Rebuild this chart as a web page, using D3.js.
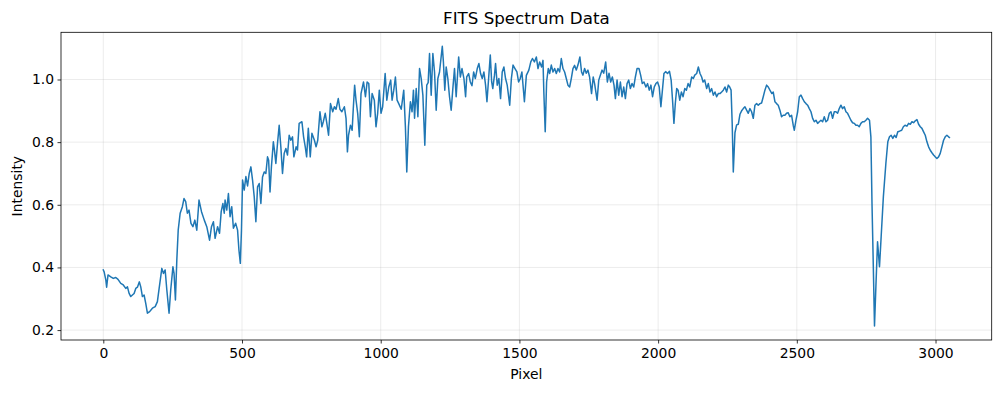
<!DOCTYPE html>
<html lang="en">
<head>
<meta charset="utf-8">
<title>FITS Spectrum Data</title>
<script src="https://d3js.org/d3.v7.min.js"></script>
<style>
  body { margin: 0; background: #fff; }
  svg { display: block; font-family: "DejaVu Sans", sans-serif; }
</style>
</head>
<body>
<svg id="chart"></svg>
<script>
// pixel positions and intensity
const pixels = [
  0, 3, 9, 12, 17, 27, 36, 45, 53, 63, 72, 81, 87, 93, 99, 105, 111, 117, 123, 130,
  135, 141, 147, 153, 159, 167, 177, 187, 195, 202, 211, 217, 223, 229, 237, 243, 251, 255, 260, 265,
  270, 277, 285, 291, 297, 303, 309, 316, 323, 330, 337, 345, 354, 364, 373, 383, 390, 397, 403, 412,
  419, 425, 431, 436, 439, 445, 451, 457, 463, 469, 477, 484, 489, 494, 498, 502, 508, 514, 520, 526,
  532, 538, 544, 550, 556, 562, 568, 574, 580, 586, 592, 596, 601, 606, 613, 617, 622, 628, 634, 640,
  646, 652, 658, 664, 670, 676, 682, 687, 695, 700, 706, 716, 722, 728, 733, 739, 746, 752, 761, 767,
  773, 781, 788, 793, 800, 805, 812, 819, 827, 833, 839, 847, 853, 860, 869, 875, 880, 884, 891, 897,
  901, 906, 911, 917, 923, 929, 938, 945, 951, 957, 963, 969, 977, 983, 989, 995, 1001, 1007, 1016, 1022,
  1029, 1036, 1041, 1047, 1053, 1059, 1065, 1074, 1083, 1089, 1094, 1100, 1107, 1113, 1118, 1122, 1128, 1134, 1140, 1146,
  1152, 1159, 1166, 1171, 1176, 1182, 1188, 1194, 1200, 1206, 1212, 1222, 1226, 1231, 1236, 1242, 1248, 1254, 1260, 1266,
  1272, 1281, 1287, 1293, 1300, 1306, 1310, 1317, 1323, 1329, 1335, 1341, 1348, 1354, 1360, 1366, 1372, 1378, 1383, 1389,
  1395, 1400, 1404, 1410, 1414, 1420, 1426, 1432, 1438, 1444, 1450, 1456, 1465, 1471, 1477, 1484, 1491, 1497, 1503, 1509,
  1518, 1525, 1534, 1541, 1547, 1554, 1561, 1567, 1573, 1580, 1585, 1588, 1593, 1598, 1604, 1609, 1615, 1621, 1627, 1633,
  1639, 1645, 1651, 1657, 1663, 1669, 1675, 1681, 1687, 1693, 1699, 1705, 1711, 1718, 1724, 1729, 1735, 1741, 1747, 1753,
  1760, 1766, 1771, 1780, 1786, 1792, 1798, 1804, 1811, 1817, 1823, 1829, 1835, 1841, 1846, 1852, 1858, 1864, 1870, 1876,
  1882, 1888, 1894, 1900, 1906, 1912, 1918, 1924, 1931, 1937, 1943, 1949, 1956, 1962, 1968, 1974, 1980, 1986, 1992, 1998,
  2004, 2010, 2016, 2021, 2027, 2034, 2041, 2047, 2052, 2057, 2062, 2067, 2072, 2078, 2084, 2090, 2096, 2102, 2108, 2114,
  2121, 2127, 2132, 2139, 2145, 2151, 2157, 2162, 2168, 2175, 2181, 2187, 2193, 2199, 2205, 2211, 2217, 2223, 2229, 2235,
  2241, 2247, 2253, 2258, 2263, 2267, 2271, 2277, 2283, 2289, 2295, 2301, 2307, 2313, 2319, 2325, 2331, 2337, 2343, 2349,
  2355, 2361, 2367, 2373, 2379, 2385, 2391, 2397, 2403, 2410, 2415, 2421, 2427, 2433, 2439, 2445, 2451, 2457, 2463, 2469,
  2475, 2481, 2487, 2491, 2497, 2503, 2509, 2515, 2521, 2527, 2533, 2539, 2545, 2551, 2557, 2563, 2569, 2575, 2581, 2587,
  2593, 2599, 2605, 2611, 2617, 2623, 2629, 2635, 2641, 2647, 2653, 2659, 2665, 2671, 2677, 2683, 2689, 2695, 2701, 2707,
  2713, 2719, 2725, 2731, 2737, 2743, 2749, 2755, 2762, 2767, 2771, 2776, 2780, 2785, 2791, 2798, 2804, 2812, 2821, 2828,
  2834, 2840, 2846, 2852, 2858, 2864, 2870, 2878, 2884, 2890, 2897, 2903, 2909, 2915, 2921, 2927, 2933, 2939, 2945, 2951,
  2957, 2963, 2969, 2975, 2981, 2987, 2993, 2999, 3005, 3011, 3017, 3023, 3029, 3035, 3041, 3047, 3050
];
const intensity = [
  0.392, 0.386, 0.360, 0.337, 0.376, 0.370, 0.365, 0.368, 0.362, 0.349, 0.344, 0.333, 0.338, 0.317, 0.307, 0.312, 0.317, 0.333, 0.337, 0.354,
  0.338, 0.307, 0.312, 0.285, 0.254, 0.259, 0.270, 0.275, 0.291, 0.338, 0.397, 0.381, 0.392, 0.328, 0.254, 0.328, 0.402, 0.381, 0.296, 0.424,
  0.519, 0.573, 0.594, 0.620, 0.610, 0.573, 0.583, 0.541, 0.530, 0.551, 0.519, 0.615, 0.578, 0.551, 0.530, 0.487, 0.530, 0.546, 0.493, 0.530,
  0.509, 0.578, 0.604, 0.573, 0.615, 0.583, 0.636, 0.562, 0.594, 0.525, 0.541, 0.519, 0.455, 0.413, 0.519, 0.679, 0.647, 0.690, 0.660, 0.700,
  0.721, 0.679, 0.626, 0.546, 0.657, 0.668, 0.604, 0.689, 0.705, 0.700, 0.753, 0.742, 0.641, 0.721, 0.801, 0.774, 0.732, 0.796, 0.854, 0.785,
  0.700, 0.764, 0.780, 0.759, 0.822, 0.806, 0.817, 0.753, 0.785, 0.775, 0.860, 0.865, 0.817, 0.785, 0.753, 0.844, 0.753, 0.828, 0.806, 0.785,
  0.806, 0.897, 0.849, 0.865, 0.892, 0.865, 0.822, 0.923, 0.897, 0.913, 0.905, 0.939, 0.905, 0.897, 0.913, 0.876, 0.769, 0.822, 0.854, 0.838,
  0.905, 0.982, 0.934, 0.892, 0.817, 0.955, 0.992, 0.945, 0.992, 0.987, 0.881, 0.955, 0.934, 0.849, 0.892, 0.966, 0.892, 0.913, 1.019, 0.934,
  0.976, 0.998, 0.934, 0.966, 1.008, 0.934, 0.923, 0.905, 0.966, 0.849, 0.705, 0.849, 0.929, 0.897, 0.966, 0.876, 0.971, 0.881, 1.035, 1.003,
  0.950, 0.790, 0.982, 0.990, 1.083, 0.950, 1.083, 1.024, 0.902, 1.003, 1.024, 1.106, 1.056, 0.966, 1.040, 1.003, 0.945, 0.902, 0.971, 1.035,
  0.945, 1.072, 1.008, 1.035, 1.003, 0.945, 1.008, 1.019, 0.992, 0.980, 1.024, 1.003, 1.035, 1.051, 1.019, 1.003, 1.024, 0.982, 0.929, 1.003,
  1.078, 0.992, 0.971, 1.013, 1.051, 0.982, 1.003, 0.939, 1.024, 1.040, 1.003, 0.982, 0.918, 1.003, 1.046, 1.035, 1.024, 0.992, 1.003, 1.024,
  0.929, 1.013, 1.030, 1.056, 1.067, 1.056, 1.072, 1.035, 1.056, 1.040, 1.061, 0.961, 0.833, 0.992, 1.035, 1.019, 1.046, 1.024, 1.035, 1.019,
  1.035, 1.024, 1.067, 1.035, 1.024, 1.003, 0.982, 0.976, 1.003, 1.035, 1.045, 1.030, 1.046, 1.072, 1.024, 1.014, 1.035, 1.020, 1.030, 1.008,
  0.955, 1.008, 0.987, 0.934, 0.998, 1.014, 1.030, 1.020, 1.056, 0.992, 1.020, 0.992, 1.008, 0.982, 0.939, 0.998, 0.950, 0.992, 0.945, 0.976,
  0.939, 0.987, 0.998, 0.971, 0.987, 0.976, 1.008, 1.035, 1.035, 1.014, 0.987, 0.992, 0.976, 0.987, 0.966, 0.982, 0.945, 0.976, 0.987, 0.992,
  0.976, 0.913, 0.971, 1.019, 1.025, 1.019, 1.026, 0.998, 0.934, 0.860, 0.924, 0.971, 0.966, 0.934, 0.960, 0.945, 0.971, 0.966, 0.987, 0.976,
  1.008, 1.003, 1.014, 1.019, 1.040, 1.019, 1.008, 0.992, 0.998, 0.971, 0.987, 0.960, 0.971, 0.950, 0.960, 0.945, 0.955, 0.955, 0.960, 0.966,
  0.976, 0.960, 0.982, 0.976, 0.966, 0.860, 0.705, 0.830, 0.855, 0.857, 0.889, 0.900, 0.907, 0.913, 0.902, 0.892, 0.907, 0.897, 0.876, 0.918,
  0.923, 0.918, 0.923, 0.925, 0.945, 0.966, 0.982, 0.976, 0.966, 0.955, 0.960, 0.929, 0.923, 0.918, 0.902, 0.881, 0.886, 0.886, 0.892, 0.894,
  0.881, 0.886, 0.854, 0.838, 0.870, 0.897, 0.945, 0.950, 0.939, 0.929, 0.923, 0.918, 0.907, 0.897, 0.876, 0.865, 0.870, 0.860, 0.865, 0.870,
  0.865, 0.881, 0.865, 0.870, 0.892, 0.897, 0.876, 0.897, 0.897, 0.892, 0.907, 0.918, 0.907, 0.913, 0.897, 0.892, 0.881, 0.870, 0.862, 0.860,
  0.854, 0.854, 0.849, 0.860, 0.865, 0.865, 0.870, 0.876, 0.870, 0.817, 0.604, 0.392, 0.213, 0.338, 0.482, 0.402, 0.498, 0.626, 0.732, 0.801,
  0.817, 0.822, 0.812, 0.822, 0.815, 0.833, 0.835, 0.838, 0.849, 0.854, 0.851, 0.860, 0.857, 0.865, 0.862, 0.868, 0.872, 0.857, 0.849, 0.844,
  0.833, 0.822, 0.801, 0.785, 0.774, 0.766, 0.759, 0.753, 0.748, 0.753, 0.764, 0.785, 0.806, 0.817, 0.822, 0.817, 0.815
];
const xTicks = [0, 500, 1000, 1500, 2000, 2500, 3000];
const yTicks = [0.2, 0.4, 0.6, 0.8, 1.0];

const width = 1001, height = 393;
const margin = { top: 32.3, right: 9.3, bottom: 53, left: 61 };
const w = width - margin.left - margin.right;
const h = height - margin.top - margin.bottom;

const svg = d3.select('#chart')
  .attr('width', width)
  .attr('height', height);

const data = pixels.map((p, i) => ({ x: p, y: intensity[i] }));

// matplotlib style 5% padding around the data
function padded(ext) {
  const pad = (ext[1] - ext[0]) * 0.05;
  return [ext[0] - pad, ext[1] + pad];
}

const x = d3.scaleLinear()
  .domain(padded(d3.extent(pixels)))
  .range([0, w]);
const y = d3.scaleLinear()
  .domain(padded(d3.extent(intensity)))
  .range([h, 0]);

const g = svg.append('g')
  .attr('transform', 'translate(' + margin.left + ',' + margin.top + ')');

// grid
g.append('g')
  .selectAll('line')
  .data(xTicks)
  .join('line')
  .attr('x1', d => x(d)).attr('x2', d => x(d))
  .attr('y1', 0).attr('y2', h)
  .attr('stroke', '#b0b0b0').attr('stroke-opacity', 0.3).attr('stroke-width', 0.8);
g.append('g')
  .selectAll('line')
  .data(yTicks)
  .join('line')
  .attr('x1', 0).attr('x2', w)
  .attr('y1', d => y(d)).attr('y2', d => y(d))
  .attr('stroke', '#b0b0b0').attr('stroke-opacity', 0.3).attr('stroke-width', 0.8);

// spectrum line
const line = d3.line()
  .x(d => x(d.x))
  .y(d => y(d.y));

g.append('path')
  .datum(data)
  .attr('fill', 'none')
  .attr('stroke', '#1f77b4')
  .attr('stroke-width', 1.5)
  .attr('stroke-linejoin', 'round')
  .attr('stroke-linecap', 'square')
  .attr('d', line);

// axes
const xAxis = g.append('g')
  .attr('transform', 'translate(0,' + h + ')')
  .call(d3.axisBottom(x).tickValues(xTicks).tickFormat(d3.format('d')).tickSizeInner(3.5).tickSizeOuter(0).tickPadding(3.5));
const yAxis = g.append('g')
  .call(d3.axisLeft(y).tickValues(yTicks).tickFormat(d3.format('.1f')).tickSizeInner(3.5).tickSizeOuter(0).tickPadding(3.5));

[xAxis, yAxis].forEach(a => {
  a.select('.domain').remove();
  a.selectAll('.tick line').attr('stroke', '#000').attr('stroke-width', 0.8);
  a.selectAll('.tick text')
    .attr('fill', '#000')
    .style('font-size', '13.9px')
    .style('font-family', '"DejaVu Sans", sans-serif');
});
xAxis.selectAll('.tick text').attr('dy', '0.76em');

// frame
g.append('rect')
  .attr('x', 0).attr('y', 0)
  .attr('width', w).attr('height', h)
  .attr('fill', 'none')
  .attr('stroke', '#000')
  .attr('stroke-width', 0.8);

// title and labels
svg.append('text')
  .attr('x', margin.left + w / 2)
  .attr('y', 24)
  .attr('text-anchor', 'middle')
  .style('font-size', '16.7px')
  .text('FITS Spectrum Data');

svg.append('text')
  .attr('x', margin.left + w / 2)
  .attr('y', 379)
  .attr('text-anchor', 'middle')
  .style('font-size', '13.9px')
  .text('Pixel');

svg.append('text')
  .attr('transform', 'translate(22,' + (margin.top + h / 2) + ') rotate(-90)')
  .attr('text-anchor', 'middle')
  .style('font-size', '13.9px')
  .text('Intensity');
</script>
</body>
</html>
